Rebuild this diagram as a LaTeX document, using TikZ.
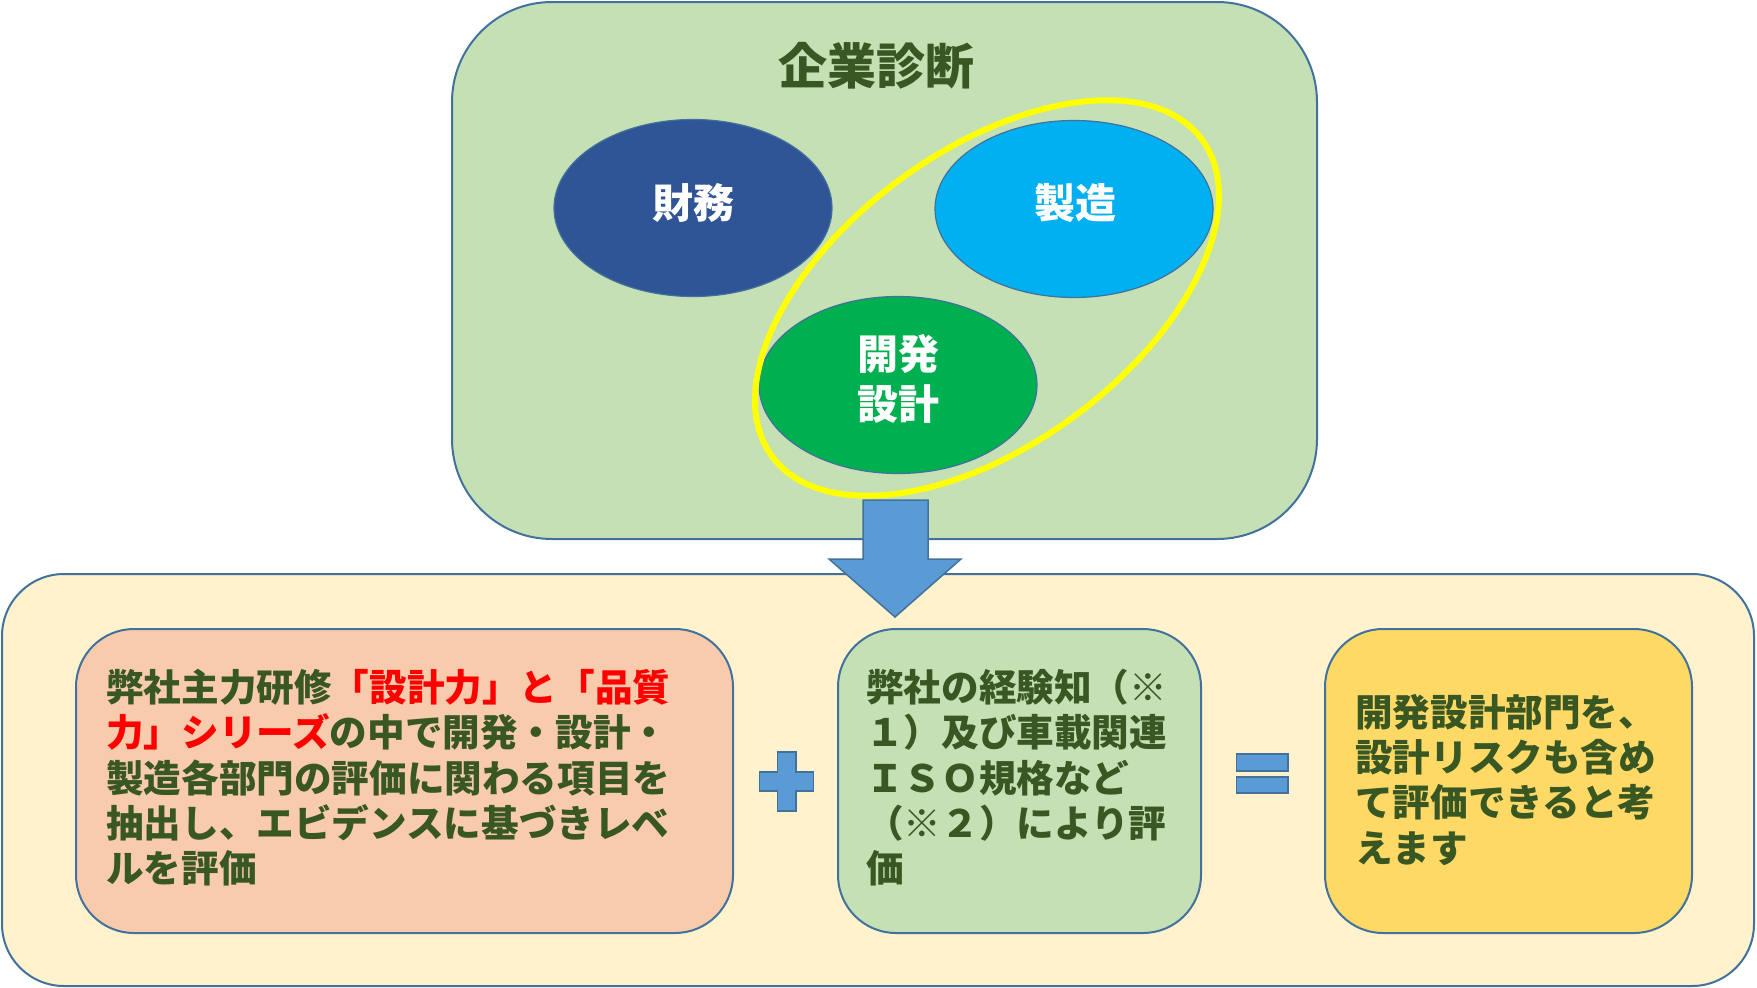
\documentclass[tikz,border=0pt]{standalone}
\usepackage{fontspec}
\setmainfont{Noto Sans CJK JP}
\usetikzlibrary{shapes.geometric}
\definecolor{topfill}{HTML}{C5E0B4}
\definecolor{edge}{HTML}{41719C}
\definecolor{botfill}{HTML}{FFF2CC}
\definecolor{orangefill}{HTML}{F8CBAD}
\definecolor{goldfill}{HTML}{FFD966}
\definecolor{navy}{HTML}{2F5597}
\definecolor{cyanfill}{HTML}{00B0F0}
\definecolor{greenfill}{HTML}{00B050}
\definecolor{darkgreen}{HTML}{385723}
\definecolor{redtxt}{HTML}{FF0000}
\definecolor{arrowblue}{HTML}{5B9BD5}
\definecolor{hiyellow}{HTML}{FFFF00}
\begin{document}
\begin{tikzpicture}[x=1pt,y=-1pt,
  panel/.style={draw=edge, line width=2pt, inner sep=0pt},
  circ/.style={ellipse, draw=edge, line width=1.2pt, minimum width=278pt, minimum height=177pt, inner sep=0pt},
  lbl/.style={inner sep=0pt, text=white, align=center, font=\bfseries\fontsize{41}{50}\selectfont},
  body/.style={anchor=north west, align=left, inner sep=0pt, text=darkgreen, font=\bfseries\fontsize{37.6}{45.3}\selectfont},
  sign/.style={fill=arrowblue, draw=edge, line width=1.2pt}]
\useasboundingbox (0,0) rectangle (1757,988);
% panels
\node[panel, fill=topfill, rounded corners=100pt, minimum width=865pt, minimum height=537pt] (diag) at (884.5,270.5) {};
\node[panel, fill=botfill, rounded corners=62pt, minimum width=1752pt, minimum height=412pt] (result) at (878,780) {};
% title
\node[inner sep=0pt, text=darkgreen, font=\bfseries\fontsize{49}{55}\selectfont] (title) at (876,66) {企業診断};
% ellipses
\node[circ, fill=navy] (zaimu) at (693,208) {};
\node[circ, fill=cyanfill] (seizo) at (1074,209) {};
\node[circ, fill=greenfill] (kaihatsu) at (898,385) {};
\node[lbl] (zaimu-t) at (693,203) {財務};
\node[lbl] (seizo-t) at (1075,203) {製造};
\node[lbl] (kaihatsu-t) at (898,379) {開発\\設計};
% highlight ring
\draw[hiyellow, line width=6pt, rotate around={36.4:(987,298)}] (987,298) ellipse [x radius=267, y radius=147];
% down arrow
\draw[sign, line width=1.5pt] (863,500) -- (928,500) -- (928,559) -- (961,559) -- (895,617) -- (829,559) -- (863,559) -- cycle;
% lower boxes
\node[panel, fill=orangefill, rounded corners=58pt, minimum width=657pt, minimum height=304pt] (kensyu) at (404.5,781) {};
\node[panel, fill=topfill, rounded corners=58pt, minimum width=363pt, minimum height=304pt] (keiken) at (1019.5,781) {};
\node[panel, fill=goldfill, rounded corners=58pt, minimum width=367pt, minimum height=304pt] (kekka) at (1508.5,781) {};
\node[body] (kensyu-t) at (106,669) {弊社主力研修\textcolor{redtxt}{「設計力」と「品質}\\\textcolor{redtxt}{力」シリーズ}の中で開発・設計・\\製造各部門の評価に関わる項目を\\抽出し、エビデンスに基づきレベ\\ルを評価};
\node[body] (keiken-t) at (866,669) {弊社の経験知（※\\１）及び車載関連\\ＩＳＯ規格など\\（※２）により評\\価};
\node[body] (kekka-t) at (1355,694) {開発設計部門を、\\設計リスクも含め\\て評価できると考\\えます};
% plus and equals
\draw[sign] (777.5,752) -- (796,752) -- (796,772) -- (813.5,772) -- (813.5,791) -- (796,791) -- (796,811) -- (777.5,811) -- (777.5,791) -- (759.5,791) -- (759.5,772) -- (777.5,772) -- cycle;
\draw[sign] (1236.5,754) rectangle (1288,771);
\draw[sign] (1236.5,777) rectangle (1288,793);
\end{tikzpicture}
\end{document}
